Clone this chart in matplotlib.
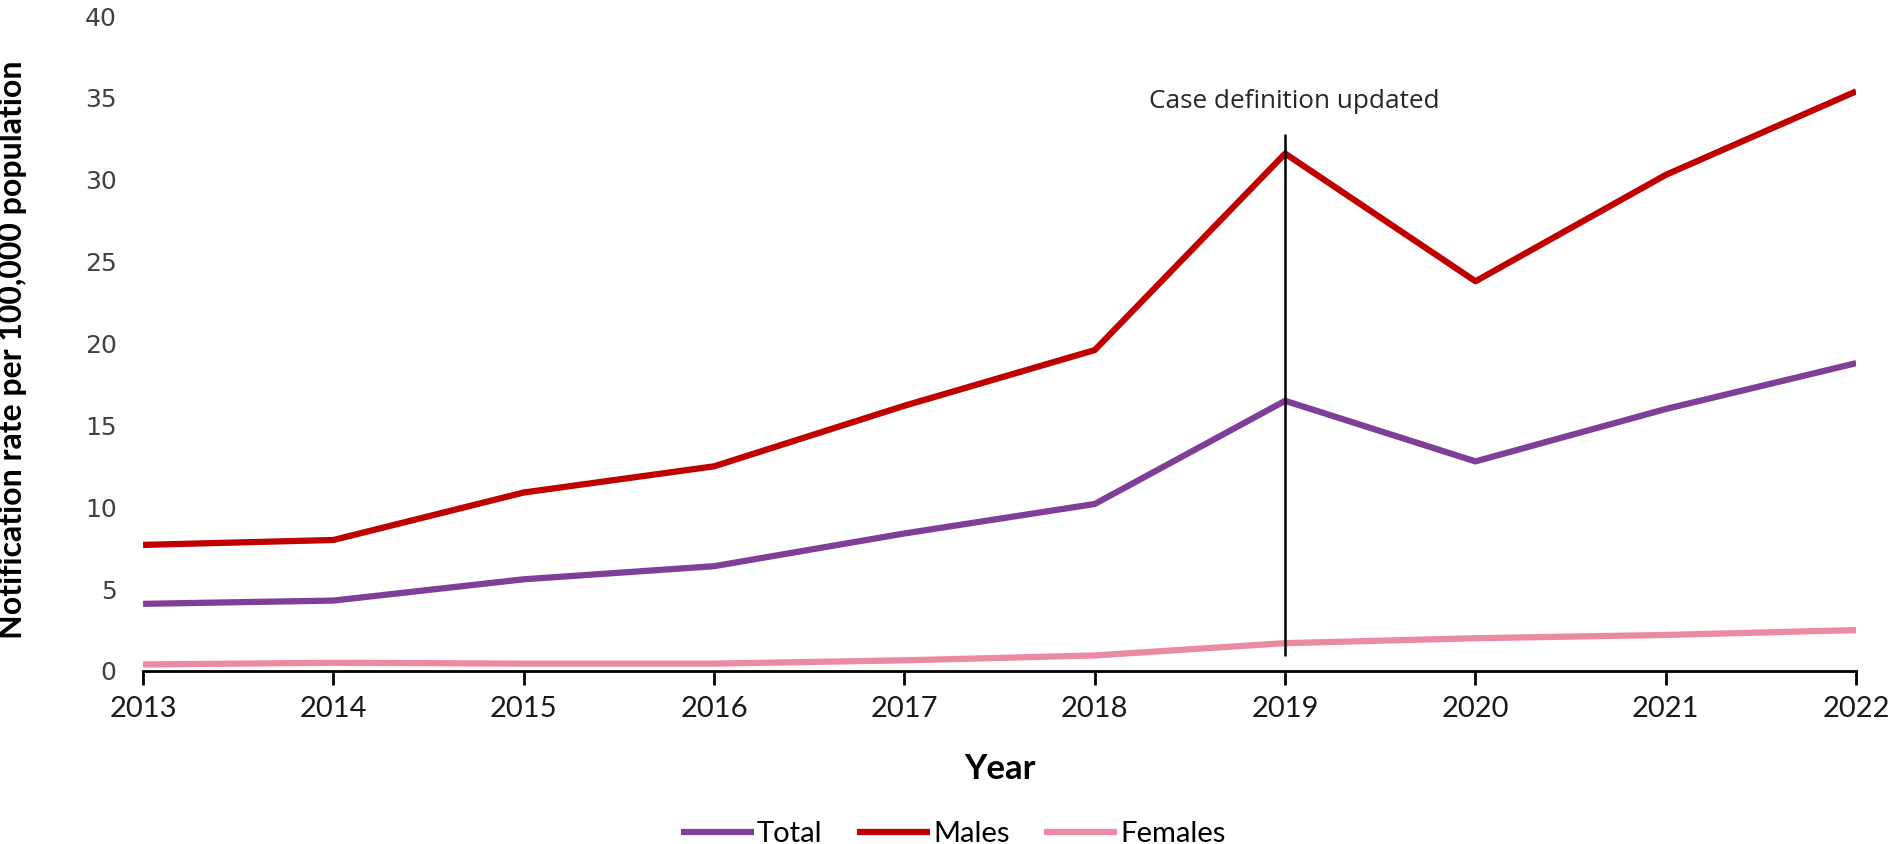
import matplotlib
matplotlib.use("Agg")
import matplotlib.pyplot as plt

years = [2013, 2014, 2015, 2016, 2017, 2018, 2019, 2020, 2021, 2022]
total = [4.1, 4.3, 5.6, 6.4, 8.4, 10.2, 16.5, 12.8, 16.0, 18.8]
males = [7.7, 8.0, 10.9, 12.5, 16.2, 19.6, 31.6, 23.8, 30.3, 35.4]
females = [0.4, 0.5, 0.45, 0.45, 0.65, 0.95, 1.7, 2.0, 2.2, 2.5]

case_def_year = 2019
case_def_span = (0.9, 32.8)

label_font = "Lato"

fig = plt.figure(figsize=(18.95, 8.44), dpi=100)
ax = fig.add_axes([0.0755, 0.205, 0.904, 0.776])

ax.plot(years, total, color="#7F3F98", lw=4.5, label="Total", solid_capstyle="butt")
ax.plot(years, males, color="#C00000", lw=4.5, label="Males", solid_capstyle="butt")
ax.plot(years, females, color="#EC8AA3", lw=4.5, label="Females", solid_capstyle="butt")

ax.vlines(case_def_year, *case_def_span, color="black", lw=1.8, zorder=5)
ax.text(case_def_year + 0.05, 34.8, "Case definition updated", ha="center", va="center",
        fontsize=18.8, color="#262626", family="Open Sans")

ax.set_xlim(2013, 2022)
ax.set_ylim(0, 40)
ax.set_xticks(years)
ax.set_yticks(range(0, 41, 5))

for s in ["top", "right", "left"]:
    ax.spines[s].set_visible(False)
ax.spines["bottom"].set_linewidth(2)
ax.tick_params(axis="x", direction="out", length=10, width=2, pad=8)
ax.tick_params(axis="y", length=0, pad=19)
for lab in ax.get_xticklabels():
    lab.set_family(label_font)
    lab.set_fontsize(21)
    lab.set_color("#1a1a1a")
for lab in ax.get_yticklabels():
    lab.set_family("DejaVu Sans")
    lab.set_fontsize(18)
    lab.set_color("#404040")

ax.set_xlabel("Year", fontsize=25, fontweight="bold", family=label_font, labelpad=22)
ax.set_ylabel("Notification rate per 100,000 population", fontsize=23, fontweight="bold",
              family=label_font)
ax.yaxis.set_label_coords(-0.068, 0.49)

fig.legend(loc="lower center", ncol=3, frameon=False, bbox_to_anchor=(0.503, -0.035),
           prop={"family": label_font, "size": 21}, handlelength=2.5, columnspacing=1.2,
           handletextpad=0.1)

fig.savefig("out.png", dpi=100)
